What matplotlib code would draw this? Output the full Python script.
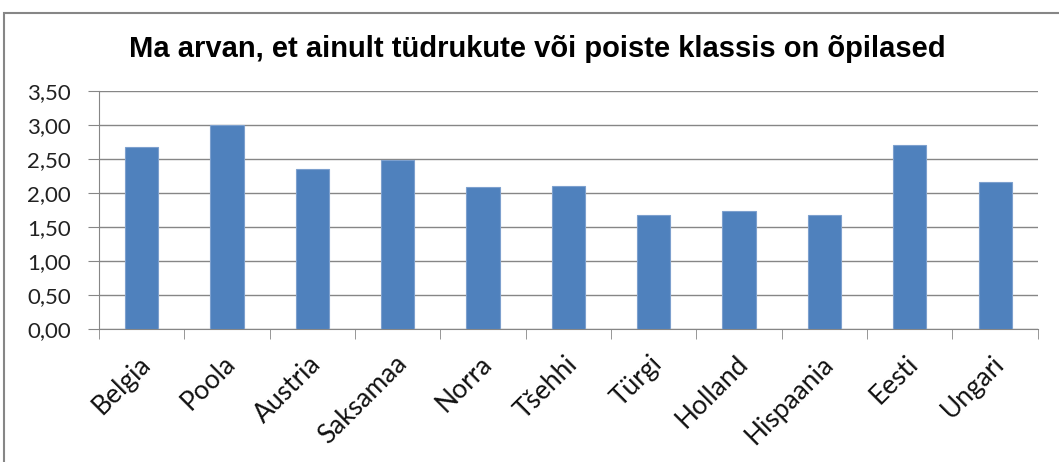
import matplotlib.pyplot as plt
import numpy as np
from matplotlib.patches import Rectangle
from matplotlib.transforms import ScaledTranslation

# Andmed
riigid = ['Belgia', 'Poola', 'Austria', 'Saksamaa', 'Norra', 'Tšehhi',
          'Türgi', 'Holland', 'Hispaania', 'Eesti', 'Ungari']
vaartused = [2.67, 3.00, 2.35, 2.49, 2.09, 2.10, 1.68, 1.74, 1.68, 2.71, 2.16]
y_ticks = [0.0, 0.5, 1.0, 1.5, 2.0, 2.5, 3.0, 3.5]
pealkiri = 'Ma arvan, et ainult tüdrukute või poiste klassis on õpilased'

fig = plt.figure(figsize=(10.59, 4.62), dpi=100)
ax = fig.add_axes([0.0935, 0.288, 0.8865, 0.515])

# Diagrammi raam
fig.patches.append(Rectangle((4 / 1059, -0.1), 1.2, 1 - 13 / 462 + 0.1,
                             transform=fig.transFigure, fill=False,
                             edgecolor='#868686', linewidth=1.5))

x = np.arange(len(riigid))
ax.bar(x, vaartused, width=0.39, color='#4F81BD', edgecolor='#7DA0CE',
       linewidth=0.8, zorder=3)

ax.set_xlim(-0.5, len(riigid) - 0.5)
ax.set_ylim(0, 3.5)
ax.set_yticks(y_ticks)
ax.set_yticklabels([f'{v:.2f}'.replace('.', ',') for v in y_ticks],
                   fontsize=16, family='Lato', color='#222222')
ax.yaxis.grid(True, color='#868686', linewidth=1, zorder=0)

ax.set_xticks(x)
ax.set_xticklabels(riigid, rotation=45, ha='right', va='top',
                   rotation_mode='anchor', fontsize=19, family='Lato',
                   color='#111111')
ax.tick_params(axis='x', which='major', length=0, pad=16)
ax.set_xticks(np.arange(-0.5, len(riigid)), minor=True)
ax.tick_params(axis='x', which='minor', length=7, color='#868686')
ax.tick_params(axis='y', length=8, color='#868686', pad=12)

# silte veidi vasakule
nihe = ScaledTranslation(-4 / 100, 0, fig.dpi_scale_trans)
for lbl in ax.get_xticklabels():
    lbl.set_transform(lbl.get_transform() + nihe)

for s in ['top', 'right']:
    ax.spines[s].set_visible(False)
for s in ['left', 'bottom']:
    ax.spines[s].set_color('#868686')

fig.text(0.507, 0.893, pealkiri, ha='center', va='center', fontsize=21,
         fontweight='bold', family=['Liberation Sans', 'DejaVu Sans'])

fig.savefig('out.png', dpi=100)
